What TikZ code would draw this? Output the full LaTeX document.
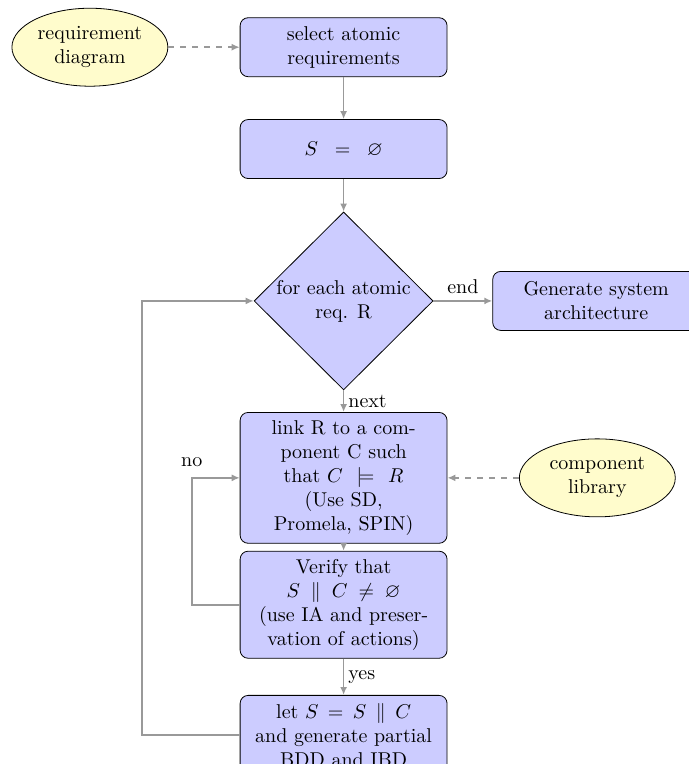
\documentclass[tikz,border=0pt]{standalone}
\usepackage{amssymb}
\usepackage{tikz}
\usetikzlibrary{arrows.meta,shapes.geometric}

\begin{document}
\begin{tikzpicture}[bloc/.style={draw,rounded corners,fill=blue!20,align=center,text width=95.5pt,inner sep=4pt,minimum height=29.5pt},choix/.style={draw,diamond,fill=blue!20,align=center,inner sep=0pt,minimum width=89.5pt,minimum height=89pt},nuage/.style={draw,ellipse,fill=yellow!20,align=center,inner sep=0pt,minimum width=78pt,minimum height=39pt},lien/.style={thick,draw=gray!80,-{Latex[length=4pt,width=3.5pt]}},source/.style={lien,dashed},etiq/.style={font=\normalsize}]
\useasboundingbox (0,0) rectangle (12.11,-13.43);
\node[nuage] (reqdiag) at (1.58,-0.83) {requirement\\diagram};
\node[bloc] (select) at (6.04,-0.83) {select atomic\\requirements};
\node[bloc] (empty) at (6.04,-2.62) {$S \,=\, \varnothing$};
\node[choix] (foreach) at (6.04,-5.29) {for each atomic\\req. R};
\node[bloc] (archi) at (10.48,-5.29) {Generate system\\architecture};
\node[bloc] (link) at (6.04,-8.40) {link R to a com-\\ponent C such\\that $C \,\models\, R$\\(Use SD,\\Promela, SPIN)};
\node[nuage] (complib) at (10.50,-8.40) {component\\library};
\node[bloc] (verify) at (6.04,-10.63) {Verify that\\$S \parallel C \neq \varnothing$\\(use IA and preser-\\vation of actions)};
\node[bloc] (compose) at (6.04,-12.92) {let $S = S \parallel C$\\and generate partial\\BDD and IBD};
\coordinate (nocorner) at (3.37,-8.40);
\coordinate (loopcorner) at (2.50,-5.29);
\draw[source] (reqdiag)--(select);
\draw[source] (complib)--(link);
\draw[lien] (select)--(empty);
\draw[lien] (empty)--(foreach);
\draw[lien] (foreach)--node[etiq,above]{end}(archi);
\draw[lien] (foreach)--node[etiq,right,inner sep=2pt]{next}(link);
\draw[lien] (link)--(verify);
\draw[lien] (verify)--node[etiq,right,inner sep=2pt]{yes}(compose);
\draw[lien] (verify.west)-|(nocorner)node[etiq,above,yshift=2pt]{no}--(link.west);
\draw[lien] (compose.west)-|(loopcorner)--(foreach.west);
\end{tikzpicture}
\end{document}
